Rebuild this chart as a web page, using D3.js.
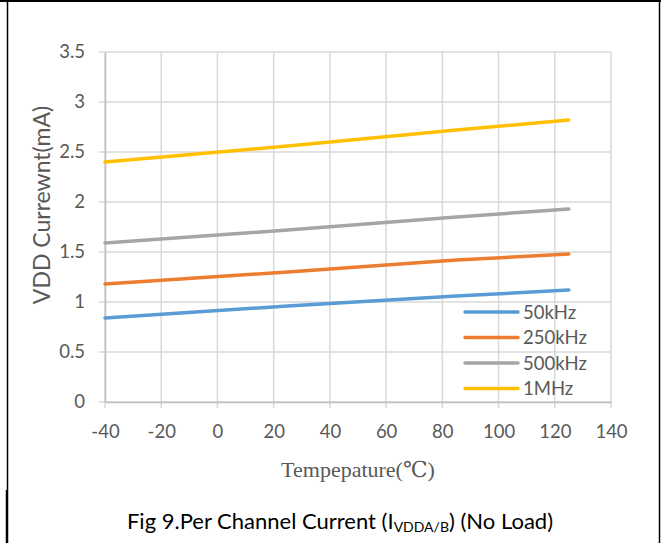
<!DOCTYPE html>
<html>
<head>
<meta charset="utf-8">
<script src="https://cdn.jsdelivr.net/npm/d3@7"></script>
<style>
  body { margin: 0; background: #fff; }
</style>
</head>
<body>
<div id="chart"></div>
<script>
var temps = [-40, 25, 85, 125];
var series = ["50kHz", "250kHz", "500kHz", "1MHz"];
var colors = ["#5b9bd5", "#ed7d31", "#a5a5a5", "#ffc000"];
var values50k = [0.84, 0.96, 1.06, 1.12];
var values250k = [1.18, 1.30, 1.42, 1.48];
var values500k = [1.59, 1.72, 1.85, 1.93];
var values1M = [2.40, 2.56, 2.72, 2.82];
var xTicks = [-40, -20, 0, 20, 40, 60, 80, 100, 120, 140];
var yTicks = [0, 0.5, 1, 1.5, 2, 2.5, 3, 3.5];

function init() {
    var w = 661;
    var h = 543;
    var font = "Lato, 'Open Sans', sans-serif";
    var textColor = "#595959";

    var svg = d3.select("#chart")
        .append("svg")
        .attr("width", w)
        .attr("height", h);

    // frame around the figure
    svg.append("line").attr("x1", 0).attr("x2", w).attr("y1", 1).attr("y2", 1)
        .attr("stroke", "#000").attr("stroke-width", 2);
    svg.append("line").attr("x1", 7.5).attr("x2", 7.5).attr("y1", 0).attr("y2", 490)
        .attr("stroke", "#000").attr("stroke-width", 1.5);
    svg.append("line").attr("x1", 7).attr("x2", 7).attr("y1", 490).attr("y2", h)
        .attr("stroke", "#000").attr("stroke-width", 2.5);
    svg.append("line").attr("x1", 659.5).attr("x2", 659.5).attr("y1", 0).attr("y2", h)
        .attr("stroke", "#000").attr("stroke-width", 1.5);

    var xScale = d3.scaleLinear().domain([-40, 140]).range([105, 611]);
    var yScale = d3.scaleLinear().domain([0, 3.5]).range([402, 52]);

    // grid (extends a little past the axes like tick marks)
    svg.append("g").selectAll("line")
        .data(yTicks)
        .enter().append("line")
        .attr("x1", xScale(-40) - 6).attr("x2", xScale(140))
        .attr("y1", function(d) { return yScale(d); })
        .attr("y2", function(d) { return yScale(d); })
        .attr("stroke", "#d9d9d9").attr("stroke-width", 1.5);
    svg.append("g").selectAll("line")
        .data(xTicks)
        .enter().append("line")
        .attr("x1", function(d) { return xScale(d); })
        .attr("x2", function(d) { return xScale(d); })
        .attr("y1", yScale(3.5)).attr("y2", yScale(0) + 6)
        .attr("stroke", "#d9d9d9").attr("stroke-width", 1.5);

    // axes
    var xAxis = d3.axisBottom(xScale).tickValues(xTicks).tickSize(0).tickPadding(23)
        .tickFormat(function(d) { return String(d); });
    var gx = svg.append("g")
        .attr("transform", "translate(0," + yScale(0) + ")")
        .call(xAxis);
    var yAxis = d3.axisLeft(yScale).tickValues(yTicks).tickSize(0).tickPadding(20)
        .tickFormat(function(d) { return String(d); });
    var gy = svg.append("g")
        .attr("transform", "translate(" + xScale(-40) + ",0)")
        .call(yAxis);
    [gx, gy].forEach(function(g) {
        g.select(".domain").attr("stroke", "#bfbfbf").attr("stroke-width", 1.5);
        g.selectAll("text").attr("font-family", font).attr("font-size", "18.5px").attr("fill", textColor);
    });

    // lines
    var allValues = [values50k, values250k, values500k, values1M];
    var line = d3.line()
        .x(function(d, i) { return xScale(temps[i]); })
        .y(function(d) { return yScale(d); });
    allValues.forEach(function(vals, i) {
        svg.append("path")
            .datum(vals)
            .attr("d", line)
            .attr("fill", "none")
            .attr("stroke", colors[i])
            .attr("stroke-width", 3.5)
            .attr("stroke-linecap", "round");
    });

    // legend
    var legend = svg.append("g").attr("transform", "translate(465,312)");
    series.forEach(function(s, i) {
        legend.append("line")
            .attr("x1", 0).attr("x2", 53)
            .attr("y1", i * 25.5).attr("y2", i * 25.5)
            .attr("stroke", colors[i]).attr("stroke-width", 3.5)
            .attr("stroke-linecap", "round");
        legend.append("text")
            .attr("x", 58).attr("y", i * 25.5 + 6.5)
            .attr("font-family", font).attr("font-size", "18.5px")
            .attr("fill", textColor)
            .text(s);
    });

    // axis titles
    svg.append("text")
        .attr("text-anchor", "middle")
        .attr("transform", "rotate(-90)")
        .attr("x", -205)
        .attr("y", 50)
        .attr("font-family", font).attr("font-size", "23px")
        .attr("fill", textColor)
        .text("VDD Currewnt(mA)");
    svg.append("text")
        .attr("text-anchor", "middle")
        .attr("x", 358)
        .attr("y", 477)
        .attr("font-family", "'Liberation Serif', 'DejaVu Serif', serif")
        .attr("font-size", "22px")
        .attr("fill", textColor)
        .text("Tempepature(℃)");

    // caption
    var cap = svg.append("text")
        .attr("text-anchor", "middle")
        .attr("x", 340)
        .attr("y", 529)
        .attr("font-family", font).attr("font-size", "22px")
        .attr("fill", "#000");
    cap.append("tspan").text("Fig 9.Per Channel Current (I");
    cap.append("tspan").attr("font-size", "14px").attr("dy", 3).text("VDDA/B");
    cap.append("tspan").attr("dy", -3).text(") (No Load)");
}
window.onload = init;
</script>
</body>
</html>
